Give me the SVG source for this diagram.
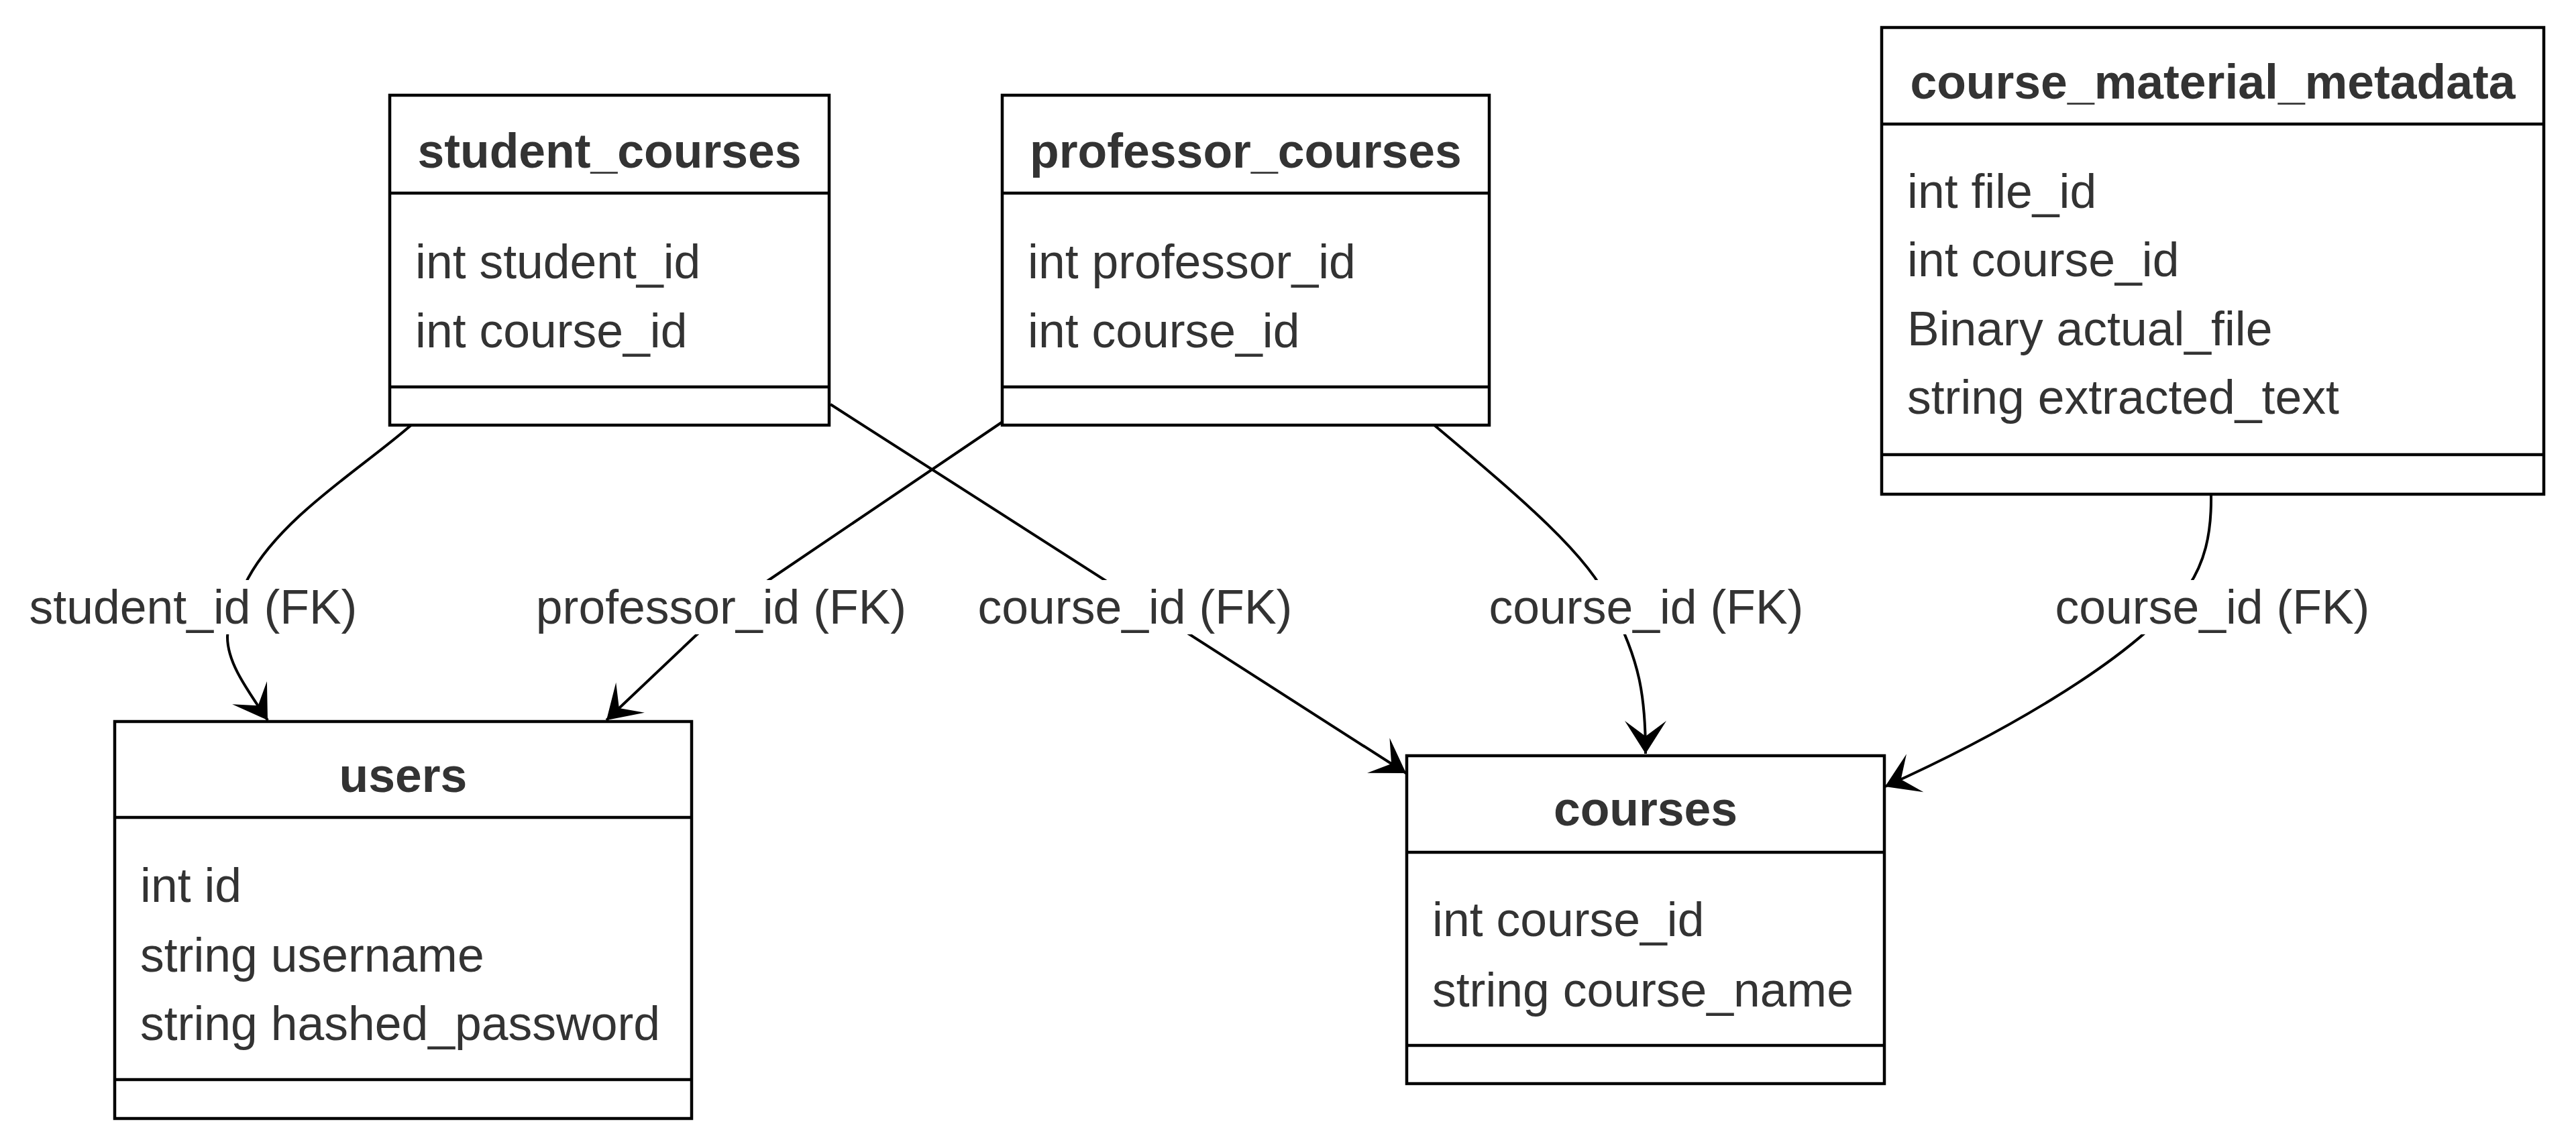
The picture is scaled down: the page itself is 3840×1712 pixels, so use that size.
<svg xmlns="http://www.w3.org/2000/svg" width="3840" height="1712" viewBox="0 0 3840 1712">
<style>
.box{fill:#fff;stroke:#000;stroke-width:4.5}
.dv{fill:none;stroke:#000;stroke-width:4.5}
.t{font-family:"Liberation Sans",Arial,Helvetica,sans-serif;font-size:71.5px;fill:#333333}
.h{font-weight:bold;text-anchor:middle}
.m{text-anchor:middle}
.edge{fill:none;stroke:#000;stroke-width:4;marker-end:url(#arr)}
.bg{fill:#fff}
</style>
<defs>
<marker id="arr" markerUnits="userSpaceOnUse" markerWidth="60" markerHeight="70" viewBox="-55 -35 60 70" refX="0" refY="0" orient="auto">
<path d="M0,0 L-49,-31 L-26,0 L-49,31 Z" fill="#000"/>
</marker>
</defs>
<rect width="3840" height="1712" fill="#fff"/>
<g id="connectors">
<path class="edge" d="M 614 633 C 540 698, 420 770, 370 862 C 350 900, 339 930, 339 950 C 339 990, 370 1030, 399 1074"/>
<path class="edge" d="M 1493 630 L 1146 865 Q 1092 902 1038 947 L 904 1074"/>
<path class="edge" d="M 1238 603 L 2096 1153"/>
<path class="edge" d="M 2138 634 C 2270 745, 2370 830, 2400 900 C 2445 985, 2453 1040, 2453 1124"/>
<path class="edge" d="M 3296 737 C 3297 800, 3285 840, 3262 875 C 3180 990, 2950 1110, 2810 1173"/>
<rect class="bg" x="40" y="865" width="496" height="81"/>
<text class="t m" x="288" y="930">student_id (FK)</text>
<rect class="bg" x="796" y="865" width="558" height="81"/>
<text class="t m" x="1075" y="930">professor_id (FK)</text>
<rect class="bg" x="1455" y="865" width="474" height="81"/>
<text class="t m" x="1692" y="930">course_id (FK)</text>
<rect class="bg" x="2217" y="865" width="474" height="81"/>
<text class="t m" x="2454" y="930">course_id (FK)</text>
<rect class="bg" x="3061" y="865" width="474" height="81"/>
<text class="t m" x="3298" y="930">course_id (FK)</text>
</g>
<g id="student_courses">
<rect class="box" x="581" y="142" width="655" height="492"/>
<path class="dv" d="M581 288 H1236 M581 577 H1236"/>
<text class="t h" x="908.5" y="250">student_courses</text>
<text class="t" x="619" y="415">int student_id</text>
<text class="t" x="619" y="518">int course_id</text>
</g>
<g id="professor_courses">
<rect class="box" x="1494" y="142" width="726" height="492"/>
<path class="dv" d="M1494 288 H2220 M1494 577 H2220"/>
<text class="t h" x="1857" y="250">professor_courses</text>
<text class="t" x="1532" y="415">int professor_id</text>
<text class="t" x="1532" y="518">int course_id</text>
</g>
<g id="course_material_metadata">
<rect class="box" x="2805" y="41" width="987" height="696"/>
<path class="dv" d="M2805 185 H3792 M2805 678 H3792"/>
<text class="t h" x="3298.5" y="146.5">course_material_metadata</text>
<text class="t" x="2843" y="310">int file_id</text>
<text class="t" x="2843" y="412">int course_id</text>
<text class="t" x="2843" y="515">Binary actual_file</text>
<text class="t" x="2843" y="617">string extracted_text</text>
</g>
<g id="users">
<rect class="box" x="171" y="1076" width="860" height="592"/>
<path class="dv" d="M171 1219 H1031 M171 1610 H1031"/>
<text class="t h" x="601" y="1181">users</text>
<text class="t" x="209" y="1345">int id</text>
<text class="t" x="209" y="1449">string username</text>
<text class="t" x="209" y="1551">string hashed_password</text>
</g>
<g id="courses">
<rect class="box" x="2097" y="1127" width="712" height="489"/>
<path class="dv" d="M2097 1271 H2809 M2097 1559 H2809"/>
<text class="t h" x="2453" y="1231">courses</text>
<text class="t" x="2135" y="1396">int course_id</text>
<text class="t" x="2135" y="1501">string course_name</text>
</g>
</svg>
